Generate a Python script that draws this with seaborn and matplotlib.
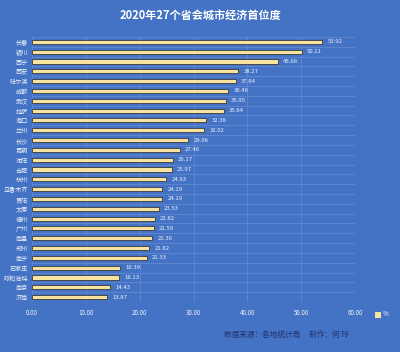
import matplotlib
matplotlib.use("Agg")
import matplotlib.pyplot as plt
import seaborn as sns
import pandas as pd
from matplotlib.patches import Rectangle

cities = ["长春", "银川", "西宁", "西安", "哈尔滨", "成都", "武汉", "拉萨", "海口", "兰州",
          "长沙", "昆明", "沈阳", "合肥", "杭州", "乌鲁木齐", "贵阳", "太原", "福州", "广州",
          "南昌", "郑州", "南宁", "石家庄", "呼和浩特", "南京", "济南"]
values = [53.92, 50.11, 45.68, 38.27, 37.84, 36.46, 35.95, 35.64, 32.38, 32.02,
          29.06, 27.46, 26.17, 25.97, 24.93, 24.19, 24.19, 23.53, 22.82, 22.59,
          22.36, 21.82, 21.33, 16.39, 16.13, 14.43, 13.87]
x_ticks = [0, 10, 20, 30, 40, 50, 60]
title = "2020年27个省会城市经济首位度"
footer = "数据来源：各地统计局     制作：何 玲"
legend_label = "%"

sns.set_style("white")
plt.rcParams['font.family'] = ['Noto Sans CJK SC', 'DejaVu Sans']

bg = "#4472C4"
bar_c = "#F7E3A0"
grid_c = "#6488D0"

df = pd.DataFrame({"city": cities, "value": values})

fig = plt.figure(figsize=(4.0, 3.52), dpi=100, facecolor=bg)
ax = fig.add_axes([0.08, 0.142, 0.8075, 0.753])
ax.set_facecolor(bg)

sns.barplot(data=df, x="value", y="city", orient="h", color=bar_c, width=0.42,
            edgecolor="#3A3A3A", linewidth=0.6, saturation=1, ax=ax)

n = len(cities)
ax.set_xlim(0, 60)
ax.set_ylim(n - 0.5, -0.5)
ax.set_xticks(x_ticks)
ax.set_xticklabels([f"{t:.2f}" for t in x_ticks], color="#EEF2FA", fontsize=4.5)
ax.set_yticks(range(n))
ax.set_yticklabels(cities, color="#EEF2FA", fontsize=4.4)
ax.tick_params(axis="both", length=0, pad=5)
ax.tick_params(axis="y", pad=3)
ax.set_xlabel("")
ax.set_ylabel("")
for s in ax.spines.values():
    s.set_visible(False)

for xv in x_ticks:
    ax.axvline(xv, color=grid_c, lw=0.6, zorder=0)
for i in range(n + 1):
    ax.axhline(i - 0.5, color=grid_c, lw=0.6, zorder=0)

for i, v in enumerate(values):
    ax.text(v + 1.0, i, f"{v:.2f}", va="center", ha="left", fontsize=4.3, color="#EEF2FA")

fig.text(0.5, 0.957, title, ha="center", va="center", fontsize=8, color="white", fontweight="bold")

fig.patches.append(Rectangle((0.937, 0.098), 0.015, 0.017, transform=fig.transFigure,
                             facecolor=bar_c, edgecolor="none"))
fig.text(0.958, 0.107, legend_label, ha="left", va="center", fontsize=4.5, color="white")

fig.text(0.715, 0.045, footer, ha="center", va="center", fontsize=5.5, color="#22346E")

fig.savefig("out.png", dpi=100, facecolor=bg)
